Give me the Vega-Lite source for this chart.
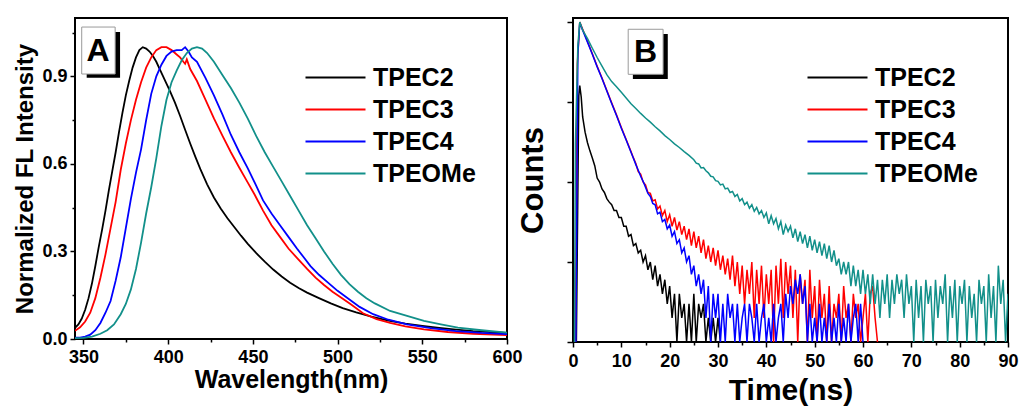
{
"$schema":"https://vega.github.io/schema/vega-lite/v6.json",
"padding":{"left":12,"top":17,"right":5,"bottom":5},
"background":"white",
"datasets":{
"fl":[
{"s":"TPEC2","w":345,"i":0.038},{"s":"TPEC2","w":347,"i":0.05},{"s":"TPEC2","w":349,"i":0.07},{"s":"TPEC2","w":351,"i":0.1},{"s":"TPEC2","w":353,"i":0.14},{"s":"TPEC2","w":355,"i":0.19},{"s":"TPEC2","w":357,"i":0.25},{"s":"TPEC2","w":359,"i":0.315},{"s":"TPEC2","w":361,"i":0.375},{"s":"TPEC2","w":363,"i":0.44},{"s":"TPEC2","w":365,"i":0.51},{"s":"TPEC2","w":367,"i":0.575},{"s":"TPEC2","w":369,"i":0.64},{"s":"TPEC2","w":371,"i":0.71},{"s":"TPEC2","w":373,"i":0.775},{"s":"TPEC2","w":375,"i":0.835},{"s":"TPEC2","w":377,"i":0.885},{"s":"TPEC2","w":379,"i":0.93},{"s":"TPEC2","w":381,"i":0.965},{"s":"TPEC2","w":383,"i":0.99},{"s":"TPEC2","w":385,"i":1.0},{"s":"TPEC2","w":387,"i":0.995},{"s":"TPEC2","w":389,"i":0.985},{"s":"TPEC2","w":391,"i":0.97},{"s":"TPEC2","w":393,"i":0.95},{"s":"TPEC2","w":395,"i":0.925},{"s":"TPEC2","w":397,"i":0.9},{"s":"TPEC2","w":399,"i":0.875},{"s":"TPEC2","w":401,"i":0.85},{"s":"TPEC2","w":404,"i":0.81},{"s":"TPEC2","w":407,"i":0.765},{"s":"TPEC2","w":410,"i":0.717},{"s":"TPEC2","w":413,"i":0.67},{"s":"TPEC2","w":416,"i":0.625},{"s":"TPEC2","w":419,"i":0.582},{"s":"TPEC2","w":423,"i":0.53},{"s":"TPEC2","w":427,"i":0.485},{"s":"TPEC2","w":431,"i":0.447},{"s":"TPEC2","w":435,"i":0.414},{"s":"TPEC2","w":439,"i":0.384},{"s":"TPEC2","w":443,"i":0.354},{"s":"TPEC2","w":447,"i":0.326},{"s":"TPEC2","w":452,"i":0.294},{"s":"TPEC2","w":457,"i":0.265},{"s":"TPEC2","w":462,"i":0.238},{"s":"TPEC2","w":467,"i":0.214},{"s":"TPEC2","w":472,"i":0.193},{"s":"TPEC2","w":477,"i":0.175},{"s":"TPEC2","w":482,"i":0.159},{"s":"TPEC2","w":489,"i":0.14},{"s":"TPEC2","w":496,"i":0.122},{"s":"TPEC2","w":503,"i":0.106},{"s":"TPEC2","w":511,"i":0.091},{"s":"TPEC2","w":520,"i":0.077},{"s":"TPEC2","w":530,"i":0.063},{"s":"TPEC2","w":540,"i":0.053},{"s":"TPEC2","w":550,"i":0.045},{"s":"TPEC2","w":560,"i":0.038},{"s":"TPEC2","w":570,"i":0.032},{"s":"TPEC2","w":580,"i":0.027},{"s":"TPEC2","w":590,"i":0.024},{"s":"TPEC2","w":600,"i":0.021},
{"s":"TPEC3","w":345,"i":0.028},{"s":"TPEC3","w":348,"i":0.04},{"s":"TPEC3","w":351,"i":0.06},{"s":"TPEC3","w":354,"i":0.09},{"s":"TPEC3","w":357,"i":0.14},{"s":"TPEC3","w":360,"i":0.21},{"s":"TPEC3","w":363,"i":0.29},{"s":"TPEC3","w":366,"i":0.38},{"s":"TPEC3","w":369,"i":0.47},{"s":"TPEC3","w":372,"i":0.58},{"s":"TPEC3","w":375,"i":0.67},{"s":"TPEC3","w":378,"i":0.75},{"s":"TPEC3","w":381,"i":0.82},{"s":"TPEC3","w":384,"i":0.88},{"s":"TPEC3","w":387,"i":0.93},{"s":"TPEC3","w":390,"i":0.965},{"s":"TPEC3","w":393,"i":0.99},{"s":"TPEC3","w":396,"i":1.0},{"s":"TPEC3","w":399,"i":1.0},{"s":"TPEC3","w":402,"i":0.99},{"s":"TPEC3","w":405,"i":0.975},{"s":"TPEC3","w":407,"i":0.965},{"s":"TPEC3","w":409,"i":0.95},{"s":"TPEC3","w":410,"i":0.943},{"s":"TPEC3","w":411,"i":0.958},{"s":"TPEC3","w":413,"i":0.925},{"s":"TPEC3","w":417,"i":0.884},{"s":"TPEC3","w":422,"i":0.82},{"s":"TPEC3","w":427,"i":0.756},{"s":"TPEC3","w":432,"i":0.697},{"s":"TPEC3","w":437,"i":0.64},{"s":"TPEC3","w":442,"i":0.587},{"s":"TPEC3","w":447,"i":0.536},{"s":"TPEC3","w":451,"i":0.495},{"s":"TPEC3","w":456,"i":0.44},{"s":"TPEC3","w":461,"i":0.39},{"s":"TPEC3","w":466,"i":0.35},{"s":"TPEC3","w":471,"i":0.31},{"s":"TPEC3","w":476,"i":0.278},{"s":"TPEC3","w":482,"i":0.24},{"s":"TPEC3","w":487,"i":0.21},{"s":"TPEC3","w":492,"i":0.185},{"s":"TPEC3","w":497,"i":0.162},{"s":"TPEC3","w":502,"i":0.142},{"s":"TPEC3","w":508,"i":0.118},{"s":"TPEC3","w":515,"i":0.088},{"s":"TPEC3","w":523,"i":0.068},{"s":"TPEC3","w":531,"i":0.055},{"s":"TPEC3","w":540,"i":0.043},{"s":"TPEC3","w":551,"i":0.033},{"s":"TPEC3","w":565,"i":0.024},{"s":"TPEC3","w":580,"i":0.018},{"s":"TPEC3","w":600,"i":0.013},
{"s":"TPEC4","w":345,"i":0.005},{"s":"TPEC4","w":348,"i":0.005},{"s":"TPEC4","w":351,"i":0.008},{"s":"TPEC4","w":354,"i":0.015},{"s":"TPEC4","w":357,"i":0.03},{"s":"TPEC4","w":360,"i":0.055},{"s":"TPEC4","w":363,"i":0.09},{"s":"TPEC4","w":366,"i":0.13},{"s":"TPEC4","w":369,"i":0.2},{"s":"TPEC4","w":372,"i":0.28},{"s":"TPEC4","w":375,"i":0.38},{"s":"TPEC4","w":378,"i":0.48},{"s":"TPEC4","w":381,"i":0.57},{"s":"TPEC4","w":384,"i":0.65},{"s":"TPEC4","w":387,"i":0.75},{"s":"TPEC4","w":390,"i":0.84},{"s":"TPEC4","w":393,"i":0.9},{"s":"TPEC4","w":396,"i":0.94},{"s":"TPEC4","w":399,"i":0.97},{"s":"TPEC4","w":402,"i":0.985},{"s":"TPEC4","w":405,"i":0.99},{"s":"TPEC4","w":408,"i":0.99},{"s":"TPEC4","w":410,"i":1.0},{"s":"TPEC4","w":412,"i":0.985},{"s":"TPEC4","w":414,"i":0.965},{"s":"TPEC4","w":417,"i":0.95},{"s":"TPEC4","w":422,"i":0.895},{"s":"TPEC4","w":427,"i":0.835},{"s":"TPEC4","w":432,"i":0.77},{"s":"TPEC4","w":437,"i":0.7},{"s":"TPEC4","w":442,"i":0.64},{"s":"TPEC4","w":447,"i":0.585},{"s":"TPEC4","w":452,"i":0.525},{"s":"TPEC4","w":456,"i":0.475},{"s":"TPEC4","w":461,"i":0.43},{"s":"TPEC4","w":466,"i":0.39},{"s":"TPEC4","w":471,"i":0.35},{"s":"TPEC4","w":476,"i":0.31},{"s":"TPEC4","w":480,"i":0.28},{"s":"TPEC4","w":484,"i":0.25},{"s":"TPEC4","w":489,"i":0.22},{"s":"TPEC4","w":494,"i":0.195},{"s":"TPEC4","w":500,"i":0.165},{"s":"TPEC4","w":506,"i":0.14},{"s":"TPEC4","w":513,"i":0.11},{"s":"TPEC4","w":521,"i":0.085},{"s":"TPEC4","w":530,"i":0.066},{"s":"TPEC4","w":541,"i":0.05},{"s":"TPEC4","w":555,"i":0.037},{"s":"TPEC4","w":570,"i":0.027},{"s":"TPEC4","w":585,"i":0.021},{"s":"TPEC4","w":600,"i":0.017},
{"s":"TPEOMe","w":345,"i":0.003},{"s":"TPEOMe","w":350,"i":0.004},{"s":"TPEOMe","w":355,"i":0.008},{"s":"TPEOMe","w":360,"i":0.018},{"s":"TPEOMe","w":364,"i":0.03},{"s":"TPEOMe","w":368,"i":0.05},{"s":"TPEOMe","w":372,"i":0.085},{"s":"TPEOMe","w":375,"i":0.12},{"s":"TPEOMe","w":378,"i":0.17},{"s":"TPEOMe","w":381,"i":0.24},{"s":"TPEOMe","w":384,"i":0.33},{"s":"TPEOMe","w":387,"i":0.43},{"s":"TPEOMe","w":390,"i":0.52},{"s":"TPEOMe","w":393,"i":0.62},{"s":"TPEOMe","w":396,"i":0.73},{"s":"TPEOMe","w":399,"i":0.82},{"s":"TPEOMe","w":402,"i":0.88},{"s":"TPEOMe","w":405,"i":0.92},{"s":"TPEOMe","w":408,"i":0.955},{"s":"TPEOMe","w":411,"i":0.98},{"s":"TPEOMe","w":414,"i":0.995},{"s":"TPEOMe","w":417,"i":1.0},{"s":"TPEOMe","w":420,"i":0.995},{"s":"TPEOMe","w":423,"i":0.98},{"s":"TPEOMe","w":427,"i":0.95},{"s":"TPEOMe","w":432,"i":0.905},{"s":"TPEOMe","w":437,"i":0.86},{"s":"TPEOMe","w":442,"i":0.81},{"s":"TPEOMe","w":447,"i":0.755},{"s":"TPEOMe","w":452,"i":0.695},{"s":"TPEOMe","w":457,"i":0.64},{"s":"TPEOMe","w":462,"i":0.59},{"s":"TPEOMe","w":467,"i":0.54},{"s":"TPEOMe","w":472,"i":0.49},{"s":"TPEOMe","w":477,"i":0.44},{"s":"TPEOMe","w":482,"i":0.39},{"s":"TPEOMe","w":487,"i":0.345},{"s":"TPEOMe","w":492,"i":0.3},{"s":"TPEOMe","w":497,"i":0.258},{"s":"TPEOMe","w":502,"i":0.22},{"s":"TPEOMe","w":507,"i":0.188},{"s":"TPEOMe","w":512,"i":0.162},{"s":"TPEOMe","w":517,"i":0.14},{"s":"TPEOMe","w":522,"i":0.122},{"s":"TPEOMe","w":531,"i":0.096},{"s":"TPEOMe","w":541,"i":0.079},{"s":"TPEOMe","w":551,"i":0.062},{"s":"TPEOMe","w":561,"i":0.05},{"s":"TPEOMe","w":571,"i":0.039},{"s":"TPEOMe","w":585,"i":0.03},{"s":"TPEOMe","w":600,"i":0.022}
],
"decay":[
{"s":"TPEC2","t":0.7,"c":1},{"s":"TPEC2","t":1.2,"c":1200},{"s":"TPEC2","t":1.4,"c":1600},{"s":"TPEC2","t":1.7,"c":1150},{"s":"TPEC2","t":2,"c":650},{"s":"TPEC2","t":2.5,"c":420},{"s":"TPEC2","t":3,"c":310},{"s":"TPEC2","t":3.5,"c":245},{"s":"TPEC2","t":4,"c":200},{"s":"TPEC2","t":4.5,"c":160},{"s":"TPEC2","t":5,"c":112},{"s":"TPEC2","t":5.5,"c":100},{"s":"TPEC2","t":6,"c":82},{"s":"TPEC2","t":6.5,"c":74},{"s":"TPEC2","t":7,"c":62},{"s":"TPEC2","t":7.5,"c":56},{"s":"TPEC2","t":8,"c":52},{"s":"TPEC2","t":8.5,"c":44},{"s":"TPEC2","t":9,"c":44},{"s":"TPEC2","t":9.5,"c":36},{"s":"TPEC2","t":10,"c":36},{"s":"TPEC2","t":10.5,"c":28},{"s":"TPEC2","t":11,"c":28},{"s":"TPEC2","t":11.5,"c":21},{"s":"TPEC2","t":12,"c":22},{"s":"TPEC2","t":12.5,"c":16},{"s":"TPEC2","t":13,"c":17},{"s":"TPEC2","t":13.5,"c":13},{"s":"TPEC2","t":14,"c":14},{"s":"TPEC2","t":14.5,"c":10},{"s":"TPEC2","t":15,"c":12},{"s":"TPEC2","t":15.5,"c":8},{"s":"TPEC2","t":16,"c":10},{"s":"TPEC2","t":16.5,"c":6},{"s":"TPEC2","t":17,"c":9},{"s":"TPEC2","t":17.5,"c":5},{"s":"TPEC2","t":18,"c":7},{"s":"TPEC2","t":18.5,"c":4},{"s":"TPEC2","t":19,"c":6},{"s":"TPEC2","t":19.5,"c":3},{"s":"TPEC2","t":20,"c":5},{"s":"TPEC2","t":20.5,"c":2},{"s":"TPEC2","t":21,"c":4},{"s":"TPEC2","t":21.5,"c":1},{"s":"TPEC2","t":22,"c":4},{"s":"TPEC2","t":22.5,"c":2},{"s":"TPEC2","t":23,"c":3},{"s":"TPEC2","t":23.5,"c":1},{"s":"TPEC2","t":24,"c":3},{"s":"TPEC2","t":24.5,"c":1},{"s":"TPEC2","t":25,"c":4},{"s":"TPEC2","t":25.5,"c":1},{"s":"TPEC2","t":26,"c":3},{"s":"TPEC2","t":26.5,"c":2},{"s":"TPEC2","t":27,"c":3},{"s":"TPEC2","t":27.5,"c":1},{"s":"TPEC2","t":28,"c":2},{"s":"TPEC2","t":28.5,"c":1},{"s":"TPEC2","t":29,"c":2},{"s":"TPEC2","t":29.5,"c":1},{"s":"TPEC2","t":30,"c":2},{"s":"TPEC2","t":30.5,"c":1},
{"s":"TPEC3","t":0.5,"c":1},{"s":"TPEC3","t":0.9,"c":3000},{"s":"TPEC3","t":1.4,"c":10000},{"s":"TPEC3","t":2,"c":8100},{"s":"TPEC3","t":3,"c":5700},{"s":"TPEC3","t":4,"c":4000},{"s":"TPEC3","t":5,"c":2800},{"s":"TPEC3","t":6,"c":2000},{"s":"TPEC3","t":7,"c":1390},{"s":"TPEC3","t":8,"c":980},{"s":"TPEC3","t":9,"c":690},{"s":"TPEC3","t":10,"c":480},{"s":"TPEC3","t":11,"c":340},{"s":"TPEC3","t":12,"c":240},{"s":"TPEC3","t":12.5,"c":200},{"s":"TPEC3","t":13,"c":170},{"s":"TPEC3","t":13.5,"c":135},{"s":"TPEC3","t":14,"c":125},{"s":"TPEC3","t":14.5,"c":100},{"s":"TPEC3","t":15,"c":92},{"s":"TPEC3","t":15.5,"c":74},{"s":"TPEC3","t":16,"c":72},{"s":"TPEC3","t":16.5,"c":58},{"s":"TPEC3","t":17,"c":60},{"s":"TPEC3","t":17.5,"c":46},{"s":"TPEC3","t":18,"c":50},{"s":"TPEC3","t":18.5,"c":38},{"s":"TPEC3","t":19,"c":44},{"s":"TPEC3","t":19.5,"c":32},{"s":"TPEC3","t":20,"c":39},{"s":"TPEC3","t":20.5,"c":28},{"s":"TPEC3","t":21,"c":36},{"s":"TPEC3","t":21.5,"c":25},{"s":"TPEC3","t":22,"c":32},{"s":"TPEC3","t":22.5,"c":22},{"s":"TPEC3","t":23,"c":28},{"s":"TPEC3","t":23.5,"c":19},{"s":"TPEC3","t":24,"c":26},{"s":"TPEC3","t":24.5,"c":16},{"s":"TPEC3","t":25,"c":24},{"s":"TPEC3","t":25.5,"c":15},{"s":"TPEC3","t":26,"c":21},{"s":"TPEC3","t":26.5,"c":13},{"s":"TPEC3","t":27,"c":19},{"s":"TPEC3","t":27.5,"c":11},{"s":"TPEC3","t":28,"c":16},{"s":"TPEC3","t":28.5,"c":10},{"s":"TPEC3","t":29,"c":15},{"s":"TPEC3","t":29.5,"c":9},{"s":"TPEC3","t":30,"c":14},{"s":"TPEC3","t":30.5,"c":8},{"s":"TPEC3","t":31,"c":12},{"s":"TPEC3","t":31.5,"c":7},{"s":"TPEC3","t":32,"c":11},{"s":"TPEC3","t":32.5,"c":6},{"s":"TPEC3","t":33,"c":12},{"s":"TPEC3","t":33.5,"c":5},{"s":"TPEC3","t":34,"c":10},{"s":"TPEC3","t":34.5,"c":4},{"s":"TPEC3","t":35,"c":9},{"s":"TPEC3","t":35.5,"c":3},{"s":"TPEC3","t":36,"c":8},{"s":"TPEC3","t":36.5,"c":4},{"s":"TPEC3","t":37,"c":10},{"s":"TPEC3","t":37.5,"c":2},{"s":"TPEC3","t":38,"c":8},{"s":"TPEC3","t":38.5,"c":3},{"s":"TPEC3","t":39,"c":9},{"s":"TPEC3","t":39.5,"c":2},{"s":"TPEC3","t":40,"c":7},{"s":"TPEC3","t":40.5,"c":3},{"s":"TPEC3","t":41,"c":8},{"s":"TPEC3","t":41.5,"c":1},{"s":"TPEC3","t":42,"c":9},{"s":"TPEC3","t":42.5,"c":3},{"s":"TPEC3","t":43,"c":11},{"s":"TPEC3","t":43.5,"c":2},{"s":"TPEC3","t":44,"c":10},{"s":"TPEC3","t":44.5,"c":4},{"s":"TPEC3","t":45,"c":9},{"s":"TPEC3","t":45.5,"c":2},{"s":"TPEC3","t":46,"c":8},{"s":"TPEC3","t":46.5,"c":1},{"s":"TPEC3","t":47,"c":7},{"s":"TPEC3","t":47.5,"c":3},{"s":"TPEC3","t":48,"c":6},{"s":"TPEC3","t":48.5,"c":1},{"s":"TPEC3","t":49,"c":8},{"s":"TPEC3","t":49.5,"c":2},{"s":"TPEC3","t":50,"c":5},{"s":"TPEC3","t":50.5,"c":1},{"s":"TPEC3","t":51,"c":6},{"s":"TPEC3","t":51.5,"c":2},{"s":"TPEC3","t":52,"c":4},{"s":"TPEC3","t":52.5,"c":1},{"s":"TPEC3","t":53,"c":5},{"s":"TPEC3","t":53.5,"c":1},{"s":"TPEC3","t":54,"c":3},{"s":"TPEC3","t":54.5,"c":2},{"s":"TPEC3","t":55,"c":4},{"s":"TPEC3","t":55.5,"c":1},{"s":"TPEC3","t":56,"c":5},{"s":"TPEC3","t":56.5,"c":2},{"s":"TPEC3","t":57,"c":3},{"s":"TPEC3","t":57.5,"c":1},{"s":"TPEC3","t":58,"c":4},{"s":"TPEC3","t":58.5,"c":2},{"s":"TPEC3","t":59,"c":3},{"s":"TPEC3","t":59.5,"c":1},{"s":"TPEC3","t":60,"c":2},{"s":"TPEC3","t":60.5,"c":4},{"s":"TPEC3","t":61,"c":1},{"s":"TPEC3","t":61.5,"c":4},{"s":"TPEC3","t":62,"c":5},{"s":"TPEC3","t":62.5,"c":2},{"s":"TPEC3","t":63,"c":1},
{"s":"TPEC4","t":0.6,"c":1},{"s":"TPEC4","t":1.0,"c":4000},{"s":"TPEC4","t":1.4,"c":9800},{"s":"TPEC4","t":2,"c":7900},{"s":"TPEC4","t":3,"c":5600},{"s":"TPEC4","t":4,"c":3950},{"s":"TPEC4","t":5,"c":2750},{"s":"TPEC4","t":6,"c":1970},{"s":"TPEC4","t":7,"c":1370},{"s":"TPEC4","t":8,"c":960},{"s":"TPEC4","t":9,"c":680},{"s":"TPEC4","t":10,"c":470},{"s":"TPEC4","t":11,"c":335},{"s":"TPEC4","t":12,"c":235},{"s":"TPEC4","t":12.5,"c":198},{"s":"TPEC4","t":13,"c":165},{"s":"TPEC4","t":13.5,"c":140},{"s":"TPEC4","t":14,"c":118},{"s":"TPEC4","t":14.5,"c":102},{"s":"TPEC4","t":15,"c":86},{"s":"TPEC4","t":15.5,"c":72},{"s":"TPEC4","t":16,"c":66},{"s":"TPEC4","t":16.5,"c":54},{"s":"TPEC4","t":17,"c":52},{"s":"TPEC4","t":17.5,"c":40},{"s":"TPEC4","t":18,"c":42},{"s":"TPEC4","t":18.5,"c":32},{"s":"TPEC4","t":19,"c":34},{"s":"TPEC4","t":19.5,"c":26},{"s":"TPEC4","t":20,"c":29},{"s":"TPEC4","t":20.5,"c":21},{"s":"TPEC4","t":21,"c":24},{"s":"TPEC4","t":21.5,"c":17},{"s":"TPEC4","t":22,"c":19},{"s":"TPEC4","t":22.5,"c":13},{"s":"TPEC4","t":23,"c":15},{"s":"TPEC4","t":23.5,"c":10},{"s":"TPEC4","t":24,"c":12},{"s":"TPEC4","t":24.5,"c":7},{"s":"TPEC4","t":25,"c":9},{"s":"TPEC4","t":25.5,"c":5},{"s":"TPEC4","t":26,"c":7},{"s":"TPEC4","t":26.5,"c":4},{"s":"TPEC4","t":27,"c":6},{"s":"TPEC4","t":27.5,"c":2},{"s":"TPEC4","t":28,"c":5},{"s":"TPEC4","t":28.5,"c":1},{"s":"TPEC4","t":29,"c":4},{"s":"TPEC4","t":29.5,"c":2},{"s":"TPEC4","t":30,"c":4},{"s":"TPEC4","t":30.5,"c":1},{"s":"TPEC4","t":31,"c":3},{"s":"TPEC4","t":31.5,"c":1},{"s":"TPEC4","t":32,"c":4},{"s":"TPEC4","t":32.5,"c":2},{"s":"TPEC4","t":33,"c":3},{"s":"TPEC4","t":33.5,"c":1},{"s":"TPEC4","t":34,"c":3},{"s":"TPEC4","t":34.5,"c":1},{"s":"TPEC4","t":35,"c":2},{"s":"TPEC4","t":35.5,"c":3},{"s":"TPEC4","t":36,"c":1},{"s":"TPEC4","t":36.5,"c":3},{"s":"TPEC4","t":37,"c":2},{"s":"TPEC4","t":37.5,"c":1},{"s":"TPEC4","t":38,"c":3},{"s":"TPEC4","t":38.5,"c":1},{"s":"TPEC4","t":39,"c":2},{"s":"TPEC4","t":39.5,"c":3},{"s":"TPEC4","t":40,"c":1},{"s":"TPEC4","t":40.5,"c":2},{"s":"TPEC4","t":41,"c":1},{"s":"TPEC4","t":41.5,"c":3},{"s":"TPEC4","t":42,"c":1},{"s":"TPEC4","t":42.5,"c":2},{"s":"TPEC4","t":43,"c":3},{"s":"TPEC4","t":43.5,"c":1},{"s":"TPEC4","t":44,"c":4},{"s":"TPEC4","t":44.5,"c":2},{"s":"TPEC4","t":45,"c":5},{"s":"TPEC4","t":45.5,"c":3},{"s":"TPEC4","t":46,"c":6},{"s":"TPEC4","t":46.5,"c":4},{"s":"TPEC4","t":47,"c":7},{"s":"TPEC4","t":47.5,"c":3},{"s":"TPEC4","t":48,"c":5},{"s":"TPEC4","t":48.5,"c":1},{"s":"TPEC4","t":49,"c":3},{"s":"TPEC4","t":49.5,"c":1},{"s":"TPEC4","t":50,"c":2},{"s":"TPEC4","t":50.5,"c":1},{"s":"TPEC4","t":51,"c":3},{"s":"TPEC4","t":51.5,"c":1},{"s":"TPEC4","t":52,"c":2},{"s":"TPEC4","t":52.5,"c":1},{"s":"TPEC4","t":53,"c":3},{"s":"TPEC4","t":53.5,"c":1},{"s":"TPEC4","t":54,"c":2},{"s":"TPEC4","t":54.5,"c":1},{"s":"TPEC4","t":55,"c":3},{"s":"TPEC4","t":55.5,"c":1},{"s":"TPEC4","t":56,"c":2},{"s":"TPEC4","t":56.5,"c":1},{"s":"TPEC4","t":57,"c":3},{"s":"TPEC4","t":57.5,"c":1},{"s":"TPEC4","t":58,"c":2},{"s":"TPEC4","t":58.5,"c":3},{"s":"TPEC4","t":59,"c":1},{"s":"TPEC4","t":59.5,"c":3},{"s":"TPEC4","t":60,"c":1},
{"s":"TPEOMe","t":0.3,"c":1},{"s":"TPEOMe","t":0.5,"c":300},{"s":"TPEOMe","t":1.0,"c":5000},{"s":"TPEOMe","t":1.4,"c":10000},{"s":"TPEOMe","t":2,"c":7900},{"s":"TPEOMe","t":3,"c":6200},{"s":"TPEOMe","t":4,"c":4700},{"s":"TPEOMe","t":5,"c":3600},{"s":"TPEOMe","t":6,"c":2800},{"s":"TPEOMe","t":7,"c":2200},{"s":"TPEOMe","t":8,"c":1800},{"s":"TPEOMe","t":9,"c":1550},{"s":"TPEOMe","t":10,"c":1320},{"s":"TPEOMe","t":11,"c":1120},{"s":"TPEOMe","t":12,"c":950},{"s":"TPEOMe","t":13,"c":830},{"s":"TPEOMe","t":14,"c":720},{"s":"TPEOMe","t":15,"c":630},{"s":"TPEOMe","t":16,"c":560},{"s":"TPEOMe","t":17,"c":490},{"s":"TPEOMe","t":18,"c":435},{"s":"TPEOMe","t":19,"c":380},{"s":"TPEOMe","t":20,"c":340},{"s":"TPEOMe","t":21,"c":300},{"s":"TPEOMe","t":22,"c":270},{"s":"TPEOMe","t":23,"c":240},{"s":"TPEOMe","t":24,"c":215},{"s":"TPEOMe","t":25,"c":190},{"s":"TPEOMe","t":25.5,"c":172},{"s":"TPEOMe","t":26,"c":168},{"s":"TPEOMe","t":26.5,"c":150},{"s":"TPEOMe","t":27,"c":152},{"s":"TPEOMe","t":27.5,"c":138},{"s":"TPEOMe","t":28,"c":130},{"s":"TPEOMe","t":28.5,"c":118},{"s":"TPEOMe","t":29,"c":116},{"s":"TPEOMe","t":29.5,"c":104},{"s":"TPEOMe","t":30,"c":102},{"s":"TPEOMe","t":30.5,"c":92},{"s":"TPEOMe","t":31,"c":94},{"s":"TPEOMe","t":31.5,"c":82},{"s":"TPEOMe","t":32,"c":84},{"s":"TPEOMe","t":32.5,"c":74},{"s":"TPEOMe","t":33,"c":76},{"s":"TPEOMe","t":33.5,"c":66},{"s":"TPEOMe","t":34,"c":70},{"s":"TPEOMe","t":34.5,"c":58},{"s":"TPEOMe","t":35,"c":62},{"s":"TPEOMe","t":35.5,"c":52},{"s":"TPEOMe","t":36,"c":56},{"s":"TPEOMe","t":36.5,"c":47},{"s":"TPEOMe","t":37,"c":52},{"s":"TPEOMe","t":37.5,"c":43},{"s":"TPEOMe","t":38,"c":48},{"s":"TPEOMe","t":38.5,"c":40},{"s":"TPEOMe","t":39,"c":44},{"s":"TPEOMe","t":39.5,"c":36},{"s":"TPEOMe","t":40,"c":41},{"s":"TPEOMe","t":40.5,"c":30},{"s":"TPEOMe","t":41,"c":38},{"s":"TPEOMe","t":41.5,"c":30},{"s":"TPEOMe","t":42,"c":35},{"s":"TPEOMe","t":42.5,"c":26},{"s":"TPEOMe","t":43,"c":32},{"s":"TPEOMe","t":43.5,"c":22},{"s":"TPEOMe","t":44,"c":29},{"s":"TPEOMe","t":44.5,"c":24},{"s":"TPEOMe","t":45,"c":28},{"s":"TPEOMe","t":45.5,"c":20},{"s":"TPEOMe","t":46,"c":26},{"s":"TPEOMe","t":46.5,"c":18},{"s":"TPEOMe","t":47,"c":24},{"s":"TPEOMe","t":47.5,"c":17},{"s":"TPEOMe","t":48,"c":22},{"s":"TPEOMe","t":48.5,"c":15},{"s":"TPEOMe","t":49,"c":21},{"s":"TPEOMe","t":49.5,"c":14},{"s":"TPEOMe","t":50,"c":19},{"s":"TPEOMe","t":50.5,"c":13},{"s":"TPEOMe","t":51,"c":18},{"s":"TPEOMe","t":51.5,"c":12},{"s":"TPEOMe","t":52,"c":17},{"s":"TPEOMe","t":52.5,"c":11},{"s":"TPEOMe","t":53,"c":16},{"s":"TPEOMe","t":53.5,"c":10},{"s":"TPEOMe","t":54,"c":14},{"s":"TPEOMe","t":54.5,"c":9},{"s":"TPEOMe","t":55,"c":11},{"s":"TPEOMe","t":55.5,"c":7},{"s":"TPEOMe","t":56,"c":10},{"s":"TPEOMe","t":56.5,"c":7},{"s":"TPEOMe","t":57,"c":10},{"s":"TPEOMe","t":57.5,"c":5},{"s":"TPEOMe","t":58,"c":9},{"s":"TPEOMe","t":58.5,"c":5},{"s":"TPEOMe","t":59,"c":8},{"s":"TPEOMe","t":59.5,"c":4},{"s":"TPEOMe","t":60,"c":8},{"s":"TPEOMe","t":60.5,"c":4},{"s":"TPEOMe","t":61,"c":7},{"s":"TPEOMe","t":61.5,"c":3},{"s":"TPEOMe","t":62,"c":7},{"s":"TPEOMe","t":62.5,"c":3},{"s":"TPEOMe","t":63,"c":6},{"s":"TPEOMe","t":63.5,"c":2},{"s":"TPEOMe","t":64,"c":6},{"s":"TPEOMe","t":64.5,"c":3},{"s":"TPEOMe","t":65,"c":7},{"s":"TPEOMe","t":65.5,"c":2},{"s":"TPEOMe","t":66,"c":6},{"s":"TPEOMe","t":66.5,"c":3},{"s":"TPEOMe","t":67,"c":7},{"s":"TPEOMe","t":67.5,"c":4},{"s":"TPEOMe","t":68,"c":6},{"s":"TPEOMe","t":68.5,"c":2},{"s":"TPEOMe","t":69,"c":7},{"s":"TPEOMe","t":69.5,"c":3},{"s":"TPEOMe","t":70,"c":5},{"s":"TPEOMe","t":70.5,"c":1},{"s":"TPEOMe","t":71,"c":6},{"s":"TPEOMe","t":71.5,"c":2},{"s":"TPEOMe","t":72,"c":5},{"s":"TPEOMe","t":72.5,"c":1},{"s":"TPEOMe","t":73,"c":6},{"s":"TPEOMe","t":73.5,"c":3},{"s":"TPEOMe","t":74,"c":5},{"s":"TPEOMe","t":74.5,"c":1},{"s":"TPEOMe","t":75,"c":6},{"s":"TPEOMe","t":75.5,"c":2},{"s":"TPEOMe","t":76,"c":5},{"s":"TPEOMe","t":76.5,"c":3},{"s":"TPEOMe","t":77,"c":7},{"s":"TPEOMe","t":77.5,"c":1},{"s":"TPEOMe","t":78,"c":5},{"s":"TPEOMe","t":78.5,"c":2},{"s":"TPEOMe","t":79,"c":6},{"s":"TPEOMe","t":79.5,"c":1},{"s":"TPEOMe","t":80,"c":5},{"s":"TPEOMe","t":80.5,"c":3},{"s":"TPEOMe","t":81,"c":6},{"s":"TPEOMe","t":81.5,"c":1},{"s":"TPEOMe","t":82,"c":5},{"s":"TPEOMe","t":82.5,"c":2},{"s":"TPEOMe","t":83,"c":4},{"s":"TPEOMe","t":83.5,"c":1},{"s":"TPEOMe","t":84,"c":6},{"s":"TPEOMe","t":84.5,"c":3},{"s":"TPEOMe","t":85,"c":5},{"s":"TPEOMe","t":85.5,"c":1},{"s":"TPEOMe","t":86,"c":7},{"s":"TPEOMe","t":86.5,"c":2},{"s":"TPEOMe","t":87,"c":5},{"s":"TPEOMe","t":87.5,"c":1},{"s":"TPEOMe","t":88,"c":9},{"s":"TPEOMe","t":88.5,"c":3},{"s":"TPEOMe","t":89,"c":6},{"s":"TPEOMe","t":89.5,"c":1},{"s":"TPEOMe","t":90,"c":4}
]
},
"hconcat":[
{
"width":432,"height":321,
"layer":[
{"data":{"name":"fl"},
"mark":{"type":"line","strokeWidth":1.8,"clip":true},
"encoding":{
"x":{"field":"w","type":"quantitative","scale":{"domain":[345,600],"nice":false,"zero":false},
"axis":{"orient":"bottom","values":[350,400,450,500,550,600],"title":"Wavelength(nm)","titleFontSize":25,"labelFontSize":18,"tickSize":5,"labelPadding":4,"titlePadding":1}},
"y":{"field":"i","type":"quantitative","scale":{"domain":[0,1.1],"nice":false},
"axis":{"orient":"left","values":[0,0.3,0.6,0.9],"format":".1f","title":"Normalized FL Intensity","titleFontSize":24,"labelFontSize":18,"tickSize":5,"labelPadding":3,"titlePadding":4}},
"color":{"field":"s","type":"nominal","scale":{"domain":["TPEC2","TPEC3","TPEC4","TPEOMe"],"range":["#000000","#ff0000","#0000ff","#12908a"]},
"legend":{"orient":"none","legendX":248,"legendY":47,"title":null}}
}},
{"data":{"values":[{}]},
"mark":{"type":"rect","fill":"black"},
"encoding":{"x":{"datum":351.9,"type":"quantitative","axis":null},"x2":{"datum":371.6},"y":{"datum":1.052,"type":"quantitative","axis":null},"y2":{"datum":0.895}}},
{"data":{"values":[{}]},
"mark":{"type":"rect","fill":"white","stroke":"#9a9a9a","strokeWidth":1},
"encoding":{"x":{"datum":348.96,"type":"quantitative","axis":null},"x2":{"datum":368.7},"y":{"datum":1.069,"type":"quantitative","axis":null},"y2":{"datum":0.908}}},
{"data":{"values":[{}]},
"mark":{"type":"text","text":"A","fontSize":32,"fontWeight":"bold","font":"Liberation Sans","baseline":"middle","align":"center","color":"black"},
"encoding":{"x":{"datum":358.6,"type":"quantitative","axis":{"orient":"bottom","values":[375,425,475,525,575],"labels":false,"tickSize":3,"title":null}},
"y":{"datum":0.988,"type":"quantitative","axis":{"orient":"left","values":[0.15,0.45,0.75,1.05],"labels":false,"tickSize":3,"title":null}}}}
],
"resolve":{"axis":{"x":"independent","y":"independent"}}
},
{
"width":435,"height":324,
"layer":[
{"data":{"name":"decay"},
"mark":{"type":"line","strokeWidth":1.5,"clip":true},
"encoding":{
"x":{"field":"t","type":"quantitative","scale":{"domain":[0,90],"nice":false},
"axis":{"orient":"bottom","values":[0,10,20,30,40,50,60,70,80,90],"title":"Time(ns)","titleFontSize":30,"labelFontSize":18,"tickSize":5,"labelPadding":5,"titlePadding":5}},
"y":{"field":"c","type":"quantitative","scale":{"type":"log","domain":[1,11220],"nice":false},
"axis":{"orient":"left","values":[1,10,100,1000,10000],"labels":false,"title":"Counts","titleFontSize":31,"tickSize":6,"titlePadding":17}},
"color":{"field":"s","type":"nominal","scale":{"domain":["TPEC2","TPEC3","TPEC4","TPEOMe"],"range":["#000000","#ff0000","#0000ff","#12908a"]},
"legend":{"orient":"none","legendX":252,"legendY":47,"title":null}}
}},
{"data":{"values":[{}]},
"mark":{"type":"rect","fill":"black"},
"encoding":{"x":{"datum":12.39,"type":"quantitative","axis":null},"x2":{"datum":19.61},"y":{"datum":7080,"type":"quantitative","axis":null},"y2":{"datum":1939}}},
{"data":{"values":[{}]},
"mark":{"type":"rect","fill":"white","stroke":"#9a9a9a","strokeWidth":1},
"encoding":{"x":{"datum":11.42,"type":"quantitative","axis":null},"x2":{"datum":18.64},"y":{"datum":8110,"type":"quantitative","axis":null},"y2":{"datum":2218}}},
{"data":{"values":[{}]},
"mark":{"type":"text","text":"B","fontSize":32,"fontWeight":"bold","font":"Liberation Sans","baseline":"middle","align":"center","color":"black"},
"encoding":{"x":{"datum":15.03,"type":"quantitative","axis":{"orient":"bottom","values":[5,15,25,35,45,55,65,75,85],"labels":false,"tickSize":3,"title":null}},
"y":{"datum":4240,"type":"quantitative","axis":null}}}
],
"resolve":{"axis":{"x":"independent","y":"independent"}}
}
],
"spacing":66,
"bounds":"flush",
"resolve":{"legend":{"color":"independent"}},
"config":{
"font":"Liberation Sans",
"view":{"stroke":"black","strokeWidth":2},
"axis":{"labelFont":"Liberation Sans","titleFont":"Liberation Sans","labelFontWeight":"bold","titleFontWeight":"bold","labelColor":"black","titleColor":"black","tickColor":"black","tickWidth":1.5,"domain":false,"grid":false,"labelFlush":false,"labelOverlap":false},
"legend":{"padding":0,"symbolType":"M-3,0H3","symbolSize":400,"symbolStrokeWidth":2,"labelFont":"Liberation Sans","labelFontSize":25,"labelFontWeight":"bold","labelColor":"black","labelOffset":25,"rowPadding":6,"symbolOffset":0}
}
}
